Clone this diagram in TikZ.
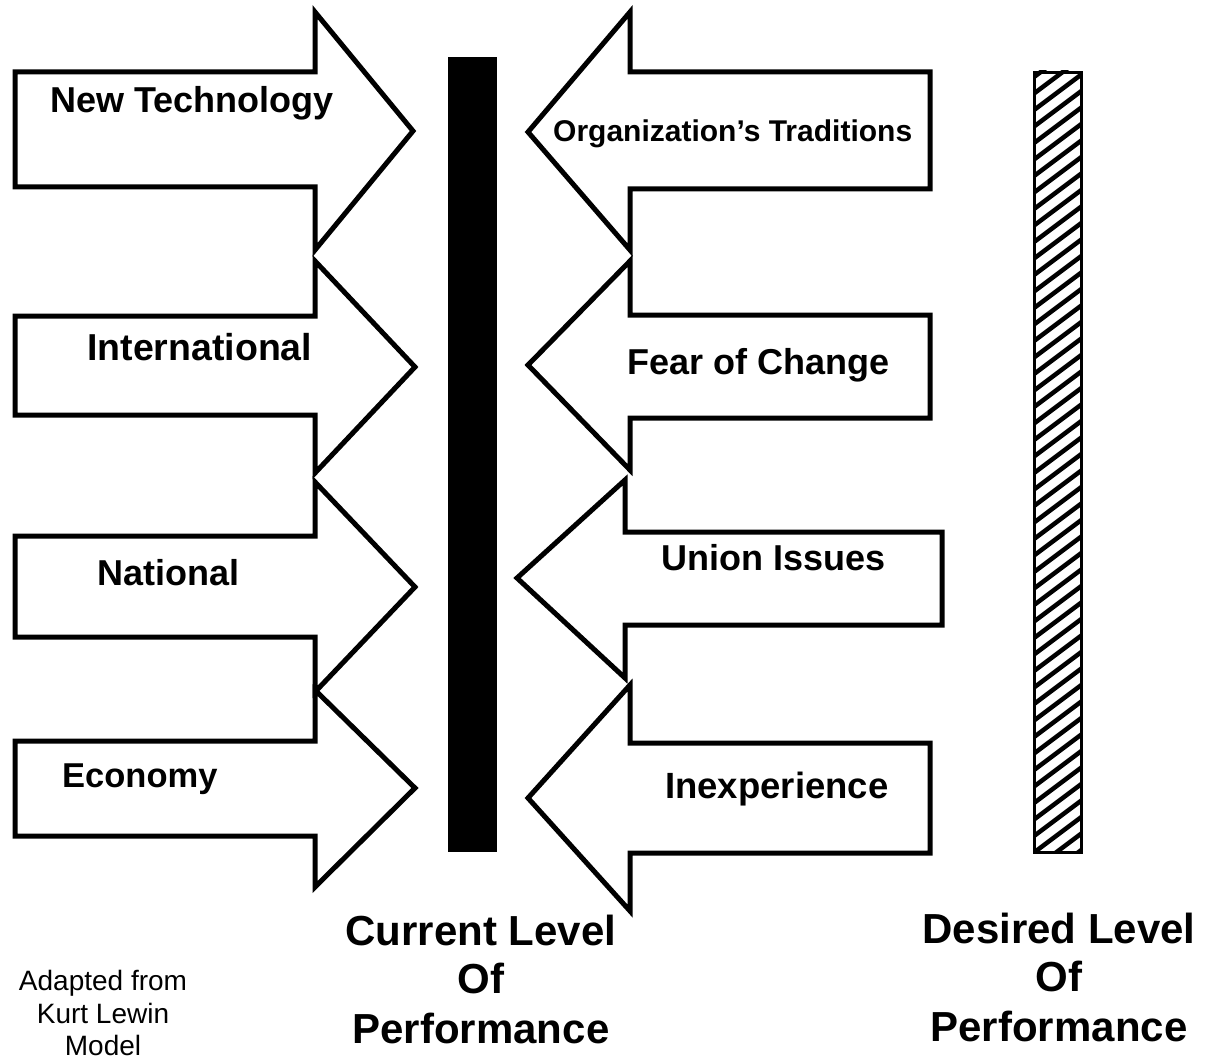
\documentclass[tikz,border=0pt]{standalone}
\usepackage{fontspec}
\setmainfont{Liberation Sans}
\begin{document}
\begin{tikzpicture}[x=1pt,y=-1pt,
  arr/.style={draw=black,fill=white,line width=5pt,line join=miter},
  lbl/.style={anchor=base west,inner sep=0pt,font=\fontsize{36}{40}\selectfont\bfseries},
  big/.style={anchor=base,inner sep=0pt,font=\fontsize{42}{48}\selectfont\bfseries},
  small/.style={anchor=base,inner sep=0pt,font=\fontsize{28}{32}\selectfont}]
\useasboundingbox (0,0) rectangle (1209,1059);
\fill[white] (0,0) rectangle (1209,1059);
% left (driving) arrows
\draw[arr] (15,72) -- (315,72) -- (315,12) -- (413,131) -- (315,250) -- (315,187) -- (15,187) -- cycle;
\draw[arr] (15,316) -- (315,316) -- (315,261) -- (415,367) -- (315,473) -- (315,415) -- (15,415) -- cycle;
\draw[arr] (15,536) -- (315,536) -- (315,482) -- (415,587) -- (315,692) -- (315,637) -- (15,637) -- cycle;
\draw[arr] (15,741) -- (315,741) -- (315,690) -- (415,788) -- (315,887) -- (315,836) -- (15,836) -- cycle;
% right (restraining) arrows
\draw[arr] (930,72) -- (630,72) -- (630,12) -- (528,132) -- (630,250) -- (630,189) -- (930,189) -- cycle;
\draw[arr] (930,315) -- (630,315) -- (630,261) -- (528,365) -- (630,470) -- (630,418) -- (930,418) -- cycle;
\draw[arr] (942,532) -- (625,532) -- (625,480) -- (517,578) -- (625,678) -- (625,625) -- (942,625) -- cycle;
\draw[arr] (930,743) -- (630,743) -- (630,685) -- (528,798) -- (630,911) -- (630,853) -- (930,853) -- cycle;
% bars
\node[draw=none,fill=black,inner sep=0pt,minimum width=49pt,minimum height=795pt,anchor=north west] (cur) at (448,57) {};
\begin{scope}
  \clip (1033,71) rectangle (1080,851);
  \foreach \k in {0,...,52} {
    \draw[line width=4.5pt] (1020,71+16.5*\k) -- (1100,11+16.5*\k);
  }
\end{scope}
\node[draw=black,line width=3pt,inner sep=0pt,minimum width=47pt,minimum height=780pt,anchor=north west] (des) at (1033,71) {};
% labels in arrows
\node[lbl] (nt) at (50,113) {New Technology};
\node[lbl,font=\fontsize{37.5}{40}\selectfont\bfseries] (intl) at (87,360) {International};
\node[lbl] (nat) at (97,585) {National};
\node[lbl,font=\fontsize{34.5}{40}\selectfont\bfseries] (eco) at (62,787) {Economy};
\node[lbl,font=\fontsize{30}{34}\selectfont\bfseries] (org) at (553,142) {Organization’s Traditions};
\node[lbl] (fear) at (627,374) {Fear of Change};
\node[lbl] (union) at (661,570) {Union Issues};
\node[lbl,font=\fontsize{36.5}{40}\selectfont\bfseries] (inexp) at (665,798) {Inexperience};
% bottom captions
\node[big] (c1) at (481,945) {Current Level};
\node[big] (c2) at (481,993) {Of};
\node[big] (c3) at (481,1043) {Performance};
\node[big] (d1) at (1059,943) {Desired Level};
\node[big] (d2) at (1059,991) {Of};
\node[big] (d3) at (1059,1041) {Performance};
\node[small] (a1) at (103,990) {Adapted from};
\node[small] (a2) at (103,1023) {Kurt Lewin};
\node[small] (a3) at (103,1055) {Model};
\end{tikzpicture}
\end{document}
